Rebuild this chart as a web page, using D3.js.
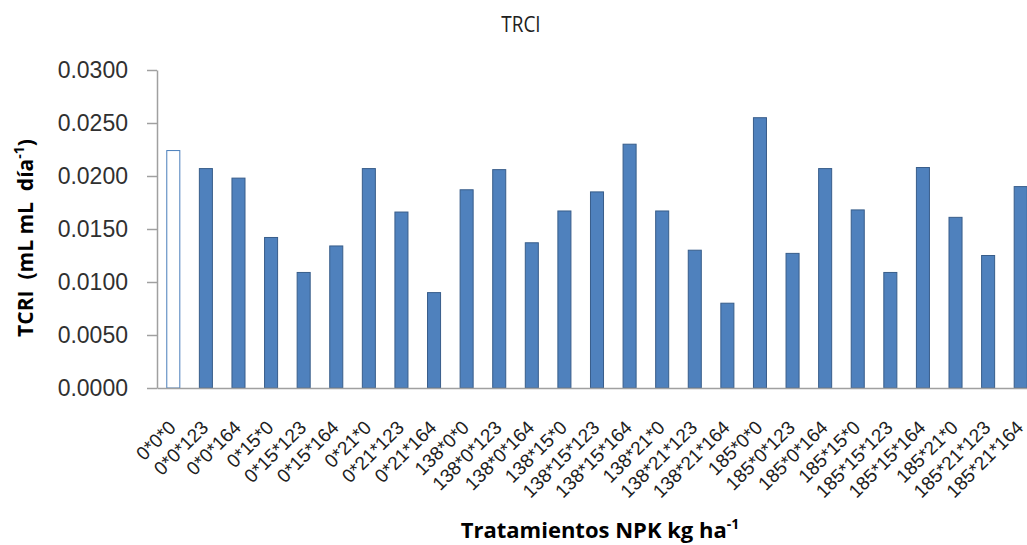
<!DOCTYPE html>
<html>
<head>
<meta charset="utf-8">
<script src="https://cdn.jsdelivr.net/npm/d3@7"></script>
<style>
  html, body { margin: 0; padding: 0; background: #fff; }
  svg { display: block; }
  .pre { white-space: pre; }
</style>
</head>
<body>
<svg id="chart" width="1027" height="545"></svg>
<script>
const categories = [
  "0*0*0", "0*0*123", "0*0*164", "0*15*0", "0*15*123", "0*15*164", "0*21*0", "0*21*123", "0*21*164",
  "138*0*0", "138*0*123", "138*0*164", "138*15*0", "138*15*123", "138*15*164", "138*21*0", "138*21*123", "138*21*164",
  "185*0*0", "185*0*123", "185*0*164", "185*15*0", "185*15*123", "185*15*164", "185*21*0", "185*21*123", "185*21*164"
];
const trciValues = [
  0.0224, 0.0207, 0.0198, 0.0142, 0.0109, 0.0134, 0.0207, 0.0166, 0.0090,
  0.0187, 0.0206, 0.0137, 0.0167, 0.0185, 0.0230, 0.0167, 0.0130, 0.0080,
  0.0255, 0.0127, 0.0207, 0.0168, 0.0109, 0.0208, 0.0161, 0.0125, 0.0190
];
const yTicks = [0, 0.005, 0.010, 0.015, 0.020, 0.025, 0.030];
const chartTitle = "TRCI";
const xTitle = "Tratamientos NPK kg ha";
const yTitle = "TCRI  (mL mL  día";

(function () {
const svg = d3.select("#chart");
const pLeft = 157, pRight = 1037, pTop = 70, pBottom = 388;

const x = d3.scaleBand().domain(categories).range([pLeft, pRight]).paddingInner(0.6).paddingOuter(0.3);
const y = d3.scaleLinear().domain([0, 0.03]).range([pBottom, pTop]);

// Bars
svg.append("g").selectAll("rect")
  .data(categories.map((c, i) => ({c, v: trciValues[i], i})))
  .join("rect")
  .attr("x", d => x(d.c))
  .attr("y", d => y(d.v))
  .attr("width", x.bandwidth())
  .attr("height", d => y(0) - y(d.v))
  .attr("fill", d => d.i === 0 ? "#ffffff" : "#4F81BD")
  .attr("stroke", d => d.i === 0 ? "#4A7EBB" : "#385D8A")
  .attr("stroke-width", 1);

// Y axis
const yAxis = svg.append("g")
  .attr("transform", `translate(${pLeft},0)`)
  .call(d3.axisLeft(y).tickValues(yTicks).tickFormat(d3.format(".4f")).tickSize(10).tickSizeOuter(0).tickPadding(19));
yAxis.select(".domain").attr("stroke", "#A0A0A0").attr("stroke-width", 1.5);
yAxis.selectAll(".tick line").attr("stroke", "#A0A0A0").attr("stroke-width", 1.5);
yAxis.selectAll(".tick text")
  .attr("font-family", "'Liberation Sans', Arial, sans-serif")
  .attr("font-size", 23)
  .attr("fill", "#303030");

// X axis
const xAxis = svg.append("g")
  .attr("transform", `translate(0,${pBottom})`)
  .call(d3.axisBottom(x).tickSize(0).tickSizeOuter(0).tickPadding(0));
xAxis.select(".domain").attr("stroke", "#A0A0A0").attr("stroke-width", 1.5);
xAxis.selectAll(".tick text")
  .attr("font-family", "'Liberation Sans', Arial, sans-serif")
  .attr("font-size", 19)
  .attr("fill", "#202020")
  .attr("text-anchor", "end")
  .attr("dy", "0.35em")
  .attr("transform", "translate(-1,36) rotate(-45)");

// Title
svg.append("text")
  .attr("x", 521).attr("y", 32)
  .attr("text-anchor", "middle")
  .attr("font-family", "'Open Sans', sans-serif")
  .attr("font-size", 21)
  .attr("fill", "#202020")
  .attr("transform", "translate(521,0) scale(0.9,1) translate(-521,0)")
  .text(chartTitle);

// X title
const xt = svg.append("text")
  .attr("x", 600).attr("y", 538)
  .attr("text-anchor", "middle")
  .attr("font-family", "'Open Sans', sans-serif")
  .attr("font-weight", "bold")
  .attr("font-size", 22)
  .attr("fill", "#000");
xt.append("tspan").text(xTitle);
xt.append("tspan").attr("baseline-shift", "super").attr("font-size", 14).text("-1");

// Y title
const yt = svg.append("text")
  .attr("class", "pre")
  .attr("transform", "translate(33,238) rotate(-90)")
  .attr("text-anchor", "middle")
  .attr("font-family", "'Open Sans', sans-serif")
  .attr("font-weight", "bold")
  .attr("font-size", 21)
  .attr("fill", "#000");
yt.append("tspan").text(yTitle);
yt.append("tspan").attr("baseline-shift", "super").attr("font-size", 14).text("-1");
yt.append("tspan").text(")");
})();
</script>
</body>
</html>
